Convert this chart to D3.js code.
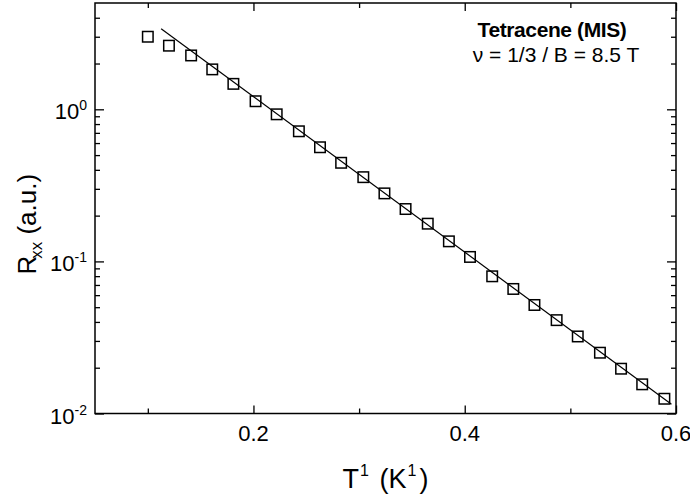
<!DOCTYPE html>
<html lang="en">
<head>
    <meta charset="UTF-8">
    <title>Tetracene Rxx vs 1/T</title>
    <style>
        body { margin: 0; background: #fff; }
        svg text { font-family: "Liberation Sans", Arial, sans-serif; fill: #000; }
        .tick line { stroke: #000; stroke-width: 1.3px; }
        .domain { display: none; }
    </style>
    <script src="https://d3js.org/d3.v7.min.js"></script>
</head>
<body>
    <svg id="chart"></svg>

    <script>
        // measured points, T^-1 (1/K) and Rxx (a.u.)
        const invT = [0.100, 0.120, 0.141, 0.161, 0.181, 0.202, 0.222, 0.243, 0.263, 0.283,
                      0.304, 0.324, 0.344, 0.365, 0.385, 0.405, 0.426, 0.446, 0.466, 0.487,
                      0.507, 0.528, 0.548, 0.568, 0.589];
        const rxx = [3.00, 2.62, 2.26, 1.83, 1.47, 1.13, 0.927, 0.717, 0.563, 0.445,
                     0.358, 0.280, 0.221, 0.177, 0.1355, 0.107, 0.0798, 0.0659, 0.0517, 0.0411,
                     0.0321, 0.0251, 0.0197, 0.01555, 0.0125];

        // activated fit, end points
        const fitInvT = [0.1126, 0.5957];
        const fitRxx = [3.39, 0.0115];

        const xMajor = [0.2, 0.4, 0.6];
        const xMinor = [0.1, 0.3, 0.5];
        const yMajor = [0.01, 0.1, 1];
        const yExp = ["-2", "-1", "0"];
        const yMinor = [0.02, 0.03, 0.04, 0.05, 0.06, 0.07, 0.08, 0.09,
                        0.2, 0.3, 0.4, 0.5, 0.6, 0.7, 0.8, 0.9, 2, 3, 4];

        const width = 690, height = 500;
        const pL = 95, pR = 676, pT = 3, pB = 413.5;

        const svg = d3.select("#chart")
            .attr("width", width)
            .attr("height", height);

        const x = d3.scaleLinear().domain([0.05, 0.6]).range([pL, pR]);
        const y = d3.scaleLog().domain([0.01, 5]).range([pB, pT]);

        // ticks, all pointing inward
        function addAxis(axis, tx, ty) {
            svg.append("g")
                .attr("transform", `translate(${tx},${ty})`)
                .call(axis);
        }
        addAxis(d3.axisBottom(x).tickValues(xMajor).tickSize(-8).tickFormat(""), 0, pB);
        addAxis(d3.axisBottom(x).tickValues(xMinor).tickSize(-5).tickFormat(""), 0, pB);
        addAxis(d3.axisTop(x).tickValues(xMajor).tickSize(-8).tickFormat(""), 0, pT);
        addAxis(d3.axisTop(x).tickValues(xMinor).tickSize(-5).tickFormat(""), 0, pT);
        addAxis(d3.axisLeft(y).tickValues(yMajor).tickSize(-9).tickFormat(""), pL, 0);
        addAxis(d3.axisLeft(y).tickValues(yMinor).tickSize(-5).tickFormat(""), pL, 0);
        addAxis(d3.axisRight(y).tickValues(yMajor).tickSize(-9).tickFormat(""), pR, 0);
        addAxis(d3.axisRight(y).tickValues(yMinor).tickSize(-5).tickFormat(""), pR, 0);

        // frame
        svg.append("rect")
            .attr("x", pL).attr("y", pT)
            .attr("width", pR - pL).attr("height", pB - pT)
            .attr("fill", "none")
            .attr("stroke", "#000")
            .attr("stroke-width", 1.5);

        // tick labels
        svg.selectAll(".xlab")
            .data(xMajor)
            .enter().append("text")
            .attr("x", d => x(d))
            .attr("y", pB + 27)
            .attr("text-anchor", "middle")
            .style("font-size", "22px")
            .text(d => d.toFixed(1));

        const ylab = svg.selectAll(".ylab")
            .data(yMajor)
            .enter().append("text")
            .attr("x", 87)
            .attr("y", d => y(d) + 10)
            .attr("text-anchor", "end")
            .style("font-size", "22px");
        ylab.append("tspan").text("10");
        ylab.append("tspan")
            .attr("dy", -9)
            .style("font-size", "14px")
            .text((d, i) => yExp[i]);

        // fit line
        const line = d3.line()
            .x(d => x(d[0]))
            .y(d => y(d[1]));
        svg.append("path")
            .datum(d3.zip(fitInvT, fitRxx))
            .attr("d", line)
            .attr("fill", "none")
            .attr("stroke", "#000")
            .attr("stroke-width", 1.2);

        // open squares
        const s = 10.5;
        svg.selectAll(".pt")
            .data(d3.zip(invT, rxx))
            .enter().append("rect")
            .attr("x", d => x(d[0]) - s / 2)
            .attr("y", d => y(d[1]) - s / 2)
            .attr("width", s)
            .attr("height", s)
            .attr("fill", "none")
            .attr("stroke", "#000")
            .attr("stroke-width", 1.5);

        // axis titles
        const xt = svg.append("text")
            .attr("x", (pL + pR) / 2)
            .attr("y", 488)
            .attr("text-anchor", "middle")
            .style("font-size", "27px");
        xt.append("tspan").text("T");
        xt.append("tspan").attr("dy", -12).attr("dx", 1).style("font-size", "16px").text("1");
        xt.append("tspan").attr("dy", 12).attr("dx", 3).text(" (K");
        xt.append("tspan").attr("dy", -12).attr("dx", 1).style("font-size", "16px").text("1");
        xt.append("tspan").attr("dy", 12).attr("dx", 3).text(")");

        const yt = svg.append("text")
            .attr("transform", `translate(36,${(pT + pB) / 2 + 16}) rotate(-90)`)
            .attr("text-anchor", "middle")
            .style("font-size", "26px");
        yt.append("tspan").text("R");
        yt.append("tspan").attr("dy", 6).attr("dx", -3).style("font-size", "17px").text("xx");
        yt.append("tspan").attr("dy", -6).text(" (a.u.)");

        // annotation
        svg.append("text")
            .attr("x", 552).attr("y", 37)
            .attr("text-anchor", "middle")
            .style("font-size", "21px")
            .style("font-weight", "bold")
            .style("letter-spacing", "-0.4px")
            .text("Tetracene (MIS)");
        svg.append("text")
            .attr("x", 556).attr("y", 62)
            .attr("text-anchor", "middle")
            .style("font-size", "21px")
            .text("ν = 1/3 / B = 8.5 T");
    </script>
</body>
</html>
